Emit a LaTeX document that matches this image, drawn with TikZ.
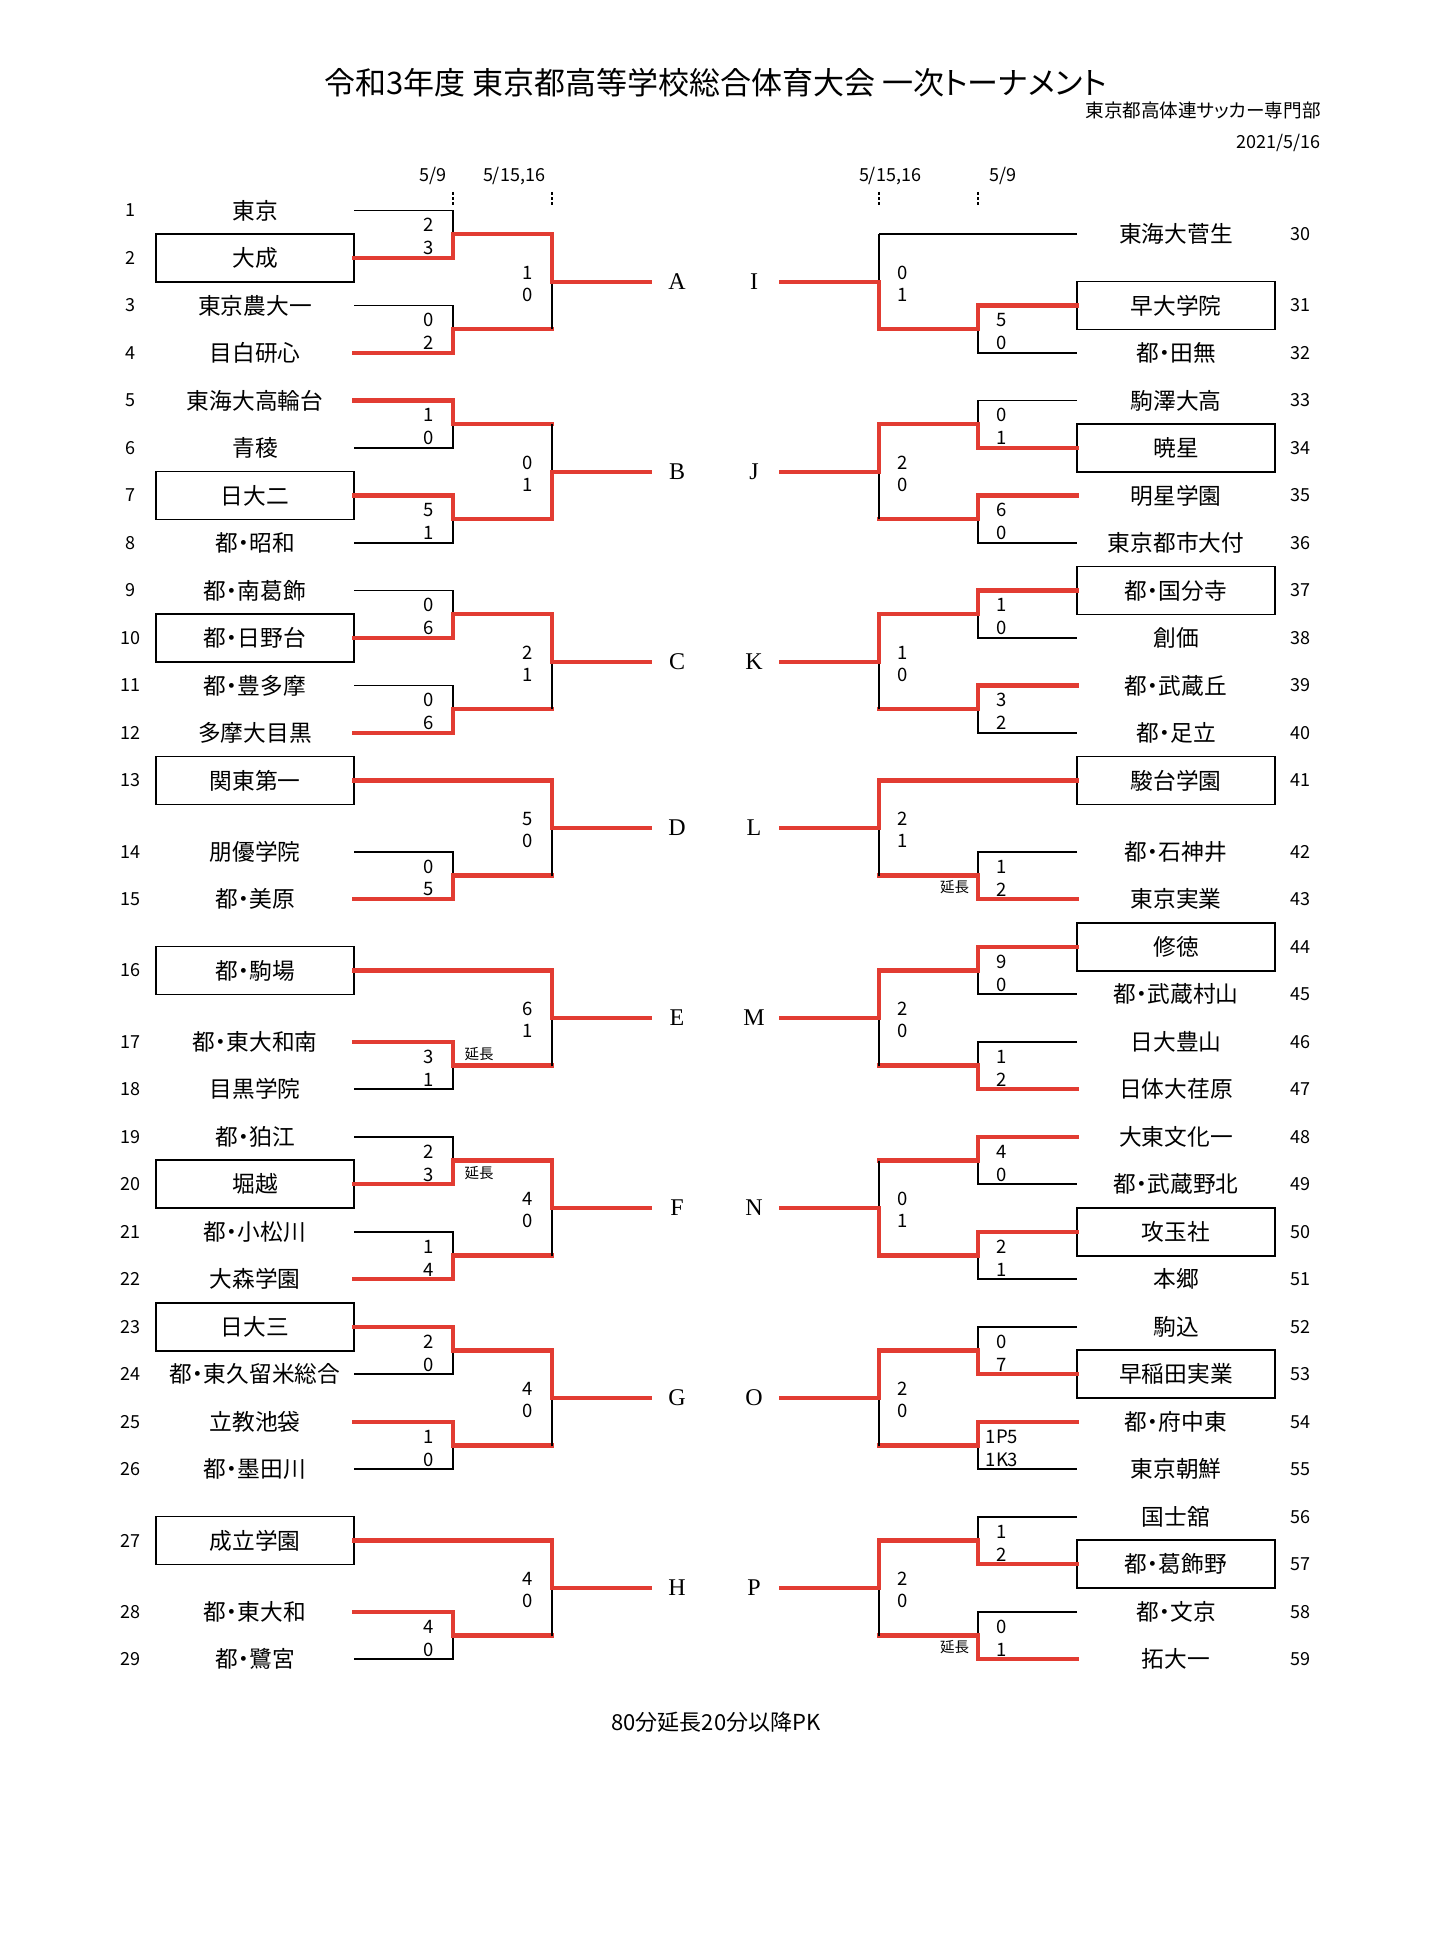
\documentclass[tikz,border=0pt]{standalone}
\usepackage{fontspec}
\setmainfont{Noto Sans CJK JP}[RawFeature={+palt}]
\newfontfamily\serifL{Liberation Serif}
\definecolor{bred}{RGB}{226,60,50}
\tikzset{
  bk/.style={line width=0.85pt, black},
  rd/.style={line width=2.1pt, bred, line cap=rect},
  nm/.style={font=\fontsize{11.35pt}{12pt}\selectfont, inner sep=0pt},
  nmbox/.style={nm, draw, line width=0.9pt, minimum width=99pt, minimum height=24pt},
  num/.style={font=\fontsize{9pt}{10pt}\selectfont, inner sep=0pt},
  score/.style={font=\fontsize{9.25pt}{10pt}\selectfont, inner sep=0pt},
  grp/.style={font=\serifL\fontsize{12pt}{13pt}\selectfont, inner sep=0pt},
  ext/.style={font=\fontsize{7.25pt}{8pt}\selectfont, inner sep=0pt},
  datet/.style={font=\fontsize{9pt}{10pt}\selectfont, inner sep=0pt},
  tickl/.style={line width=0.7pt, dash pattern=on 1.35pt off 1.25pt},
}
% side: -1 left, 1 right
\newcommand\Team[5]{%
  \node[num] (n#2) at ({715.5+(#1)*584.8},{210.5+47.5*(#4)}) {#2};
  \node[#5] (t#2) at ({715.5+(#1)*460.5},{210.5+47.5*(#4)}) {#3};
  \coordinate (a#2) at ({715.5+(#1)*361.5},{210.5+47.5*(#4)});
}
\newcommand\Match[8]{%
  \coordinate (v#2) at ({715.5+(#1)*262.5},{210.5+47.5*(#3)});
  \coordinate (w#2) at ({715.5+(#1)*262.5},{210.5+47.5*(#5)});
  \coordinate (m#2) at ({715.5+(#1)*262.5},{210.5+47.5*((#3)+(#5))/2});
  \coordinate (r#2) at ({715.5+(#1)*163.5},{210.5+47.5*((#3)+(#5))/2});
  \draw[bk] (a#2) -- (v#2) -- (w#2) -- (a#4);
  \ifnum#6=1 \draw[rd] (a#2) -- (v#2) -- (m#2) -- (r#2);
  \else \draw[rd] (a#4) -- (w#2) -- (m#2) -- (r#2); \fi
  \node[score] (sa#2) at ({715.5+(#1)*286.5},{210.5+47.5*((#3)+(#5))/2-9}) {#7};
  \node[score] (sb#2) at ({715.5+(#1)*286.5},{210.5+47.5*((#3)+(#5))/2+14}) {#8};
}
\newcommand\Bye[4]{%
  \coordinate (r#2) at ({715.5+(#1)*163.5},{210.5+47.5*(#3)});
  \draw[#4] (a#2) -- (r#2);
}
\newcommand\Final[9]{%
  \coordinate (g#9m) at ({715.5+(#1)*163.5},{210.5+47.5*((#3)+(#5))/2});
  \coordinate (g#9e) at ({715.5+(#1)*65.5},{210.5+47.5*((#3)+(#5))/2});
  \draw[bk] (r#2) -- (r#4);
  \ifnum#6=1 \draw[rd] (r#2) -- (g#9m) -- (g#9e);
  \else \draw[rd] (r#4) -- (g#9m) -- (g#9e); \fi
  \node[score] (fa#9) at ({715.5+(#1)*187.5},{210.5+47.5*((#3)+(#5))/2-9}) {#7};
  \node[score] (fb#9) at ({715.5+(#1)*187.5},{210.5+47.5*((#3)+(#5))/2+13}) {#8};
  \node[grp] (g#9) at ({715.5+(#1)*38.5},{210.5+47.5*((#3)+(#5))/2}) {#9};
}
\begin{document}
\begin{tikzpicture}[x=0.5pt,y=-0.5pt]
\useasboundingbox (0,0) rectangle (1430,1947);
\fill[white] (0,0) rectangle (1430,1947);

% header
\node[font=\fontsize{15.5pt}{16pt}\selectfont, inner sep=0pt] (title) at (715.5,83) {令和3年度 東京都高等学校総合体育大会 一次トーナメント};
\node[font=\fontsize{9.3pt}{10pt}\selectfont, inner sep=0pt, anchor=east] (org) at (1321,110) {東京都高体連サッカー専門部};
\node[font=\fontsize{9pt}{10pt}\selectfont, inner sep=0pt, anchor=east] (date) at (1321,143) {2021/5/16};

% round dates and ticks
\node[datet] (dl1) at (433,176) {5/9};
\node[datet] (dl2) at (514,176) {5/15,16};
\node[datet] (dr2) at (890,176) {5/15,16};
\node[datet] (dr1) at (1003,176) {5/9};
\coordinate (kl1a) at (453,192); \coordinate (kl1b) at (453,206);
\coordinate (kl2a) at (552,192); \coordinate (kl2b) at (552,206);
\coordinate (kr2a) at (879,192); \coordinate (kr2b) at (879,206);
\coordinate (kr1a) at (978,192); \coordinate (kr1b) at (978,206);
\draw[tickl] (kl1a) -- (kl1b);
\draw[tickl] (kl2a) -- (kl2b);
\draw[tickl] (kr2a) -- (kr2b);
\draw[tickl] (kr1a) -- (kr1b);

% ---------- left side ----------
\Team{-1}{1}{東京}{0}{nm}
\Team{-1}{2}{大成}{1}{nmbox}
\Team{-1}{3}{東京農大一}{2}{nm}
\Team{-1}{4}{目白研心}{3}{nm}
\Team{-1}{5}{東海大高輪台}{4}{nm}
\Team{-1}{6}{青稜}{5}{nm}
\Team{-1}{7}{日大二}{6}{nmbox}
\Team{-1}{8}{都・昭和}{7}{nm}
\Team{-1}{9}{都・南葛飾}{8}{nm}
\Team{-1}{10}{都・日野台}{9}{nmbox}
\Team{-1}{11}{都・豊多摩}{10}{nm}
\Team{-1}{12}{多摩大目黒}{11}{nm}
\Team{-1}{13}{関東第一}{12}{nmbox}
\Team{-1}{14}{朋優学院}{13.5}{nm}
\Team{-1}{15}{都・美原}{14.5}{nm}
\Team{-1}{16}{都・駒場}{16}{nmbox}
\Team{-1}{17}{都・東大和南}{17.5}{nm}
\Team{-1}{18}{目黒学院}{18.5}{nm}
\Team{-1}{19}{都・狛江}{19.5}{nm}
\Team{-1}{20}{堀越}{20.5}{nmbox}
\Team{-1}{21}{都・小松川}{21.5}{nm}
\Team{-1}{22}{大森学園}{22.5}{nm}
\Team{-1}{23}{日大三}{23.5}{nmbox}
\Team{-1}{24}{都・東久留米総合}{24.5}{nm}
\Team{-1}{25}{立教池袋}{25.5}{nm}
\Team{-1}{26}{都・墨田川}{26.5}{nm}
\Team{-1}{27}{成立学園}{28}{nmbox}
\Team{-1}{28}{都・東大和}{29.5}{nm}
\Team{-1}{29}{都・鷺宮}{30.5}{nm}

\Match{-1}{1}{0}{2}{1}{2}{2}{3}
\Match{-1}{3}{2}{4}{3}{2}{0}{2}
\Final{-1}{1}{0.5}{3}{2.5}{1}{1}{0}{A}
\Match{-1}{5}{4}{6}{5}{1}{1}{0}
\Match{-1}{7}{6}{8}{7}{1}{5}{1}
\Final{-1}{5}{4.5}{7}{6.5}{2}{0}{1}{B}
\Match{-1}{9}{8}{10}{9}{2}{0}{6}
\Match{-1}{11}{10}{12}{11}{2}{0}{6}
\Final{-1}{9}{8.5}{11}{10.5}{1}{2}{1}{C}
\Bye{-1}{13}{12}{rd}
\Match{-1}{14}{13.5}{15}{14.5}{2}{0}{5}
\Final{-1}{13}{12}{14}{14}{1}{5}{0}{D}
\Bye{-1}{16}{16}{rd}
\Match{-1}{17}{17.5}{18}{18.5}{1}{3}{1}
\Final{-1}{16}{16}{17}{18}{1}{6}{1}{E}
\Match{-1}{19}{19.5}{20}{20.5}{2}{2}{3}
\Match{-1}{21}{21.5}{22}{22.5}{2}{1}{4}
\Final{-1}{19}{20}{21}{22}{1}{4}{0}{F}
\Match{-1}{23}{23.5}{24}{24.5}{1}{2}{0}
\Match{-1}{25}{25.5}{26}{26.5}{1}{1}{0}
\Final{-1}{23}{24}{25}{26}{1}{4}{0}{G}
\Bye{-1}{27}{28}{rd}
\Match{-1}{28}{29.5}{29}{30.5}{1}{4}{0}
\Final{-1}{27}{28}{28}{30}{1}{4}{0}{H}

% ---------- right side ----------
\Team{1}{30}{東海大菅生}{0.5}{nm}
\Team{1}{31}{早大学院}{2}{nmbox}
\Team{1}{32}{都・田無}{3}{nm}
\Team{1}{33}{駒澤大高}{4}{nm}
\Team{1}{34}{暁星}{5}{nmbox}
\Team{1}{35}{明星学園}{6}{nm}
\Team{1}{36}{東京都市大付}{7}{nm}
\Team{1}{37}{都・国分寺}{8}{nmbox}
\Team{1}{38}{創価}{9}{nm}
\Team{1}{39}{都・武蔵丘}{10}{nm}
\Team{1}{40}{都・足立}{11}{nm}
\Team{1}{41}{駿台学園}{12}{nmbox}
\Team{1}{42}{都・石神井}{13.5}{nm}
\Team{1}{43}{東京実業}{14.5}{nm}
\Team{1}{44}{修徳}{15.5}{nmbox}
\Team{1}{45}{都・武蔵村山}{16.5}{nm}
\Team{1}{46}{日大豊山}{17.5}{nm}
\Team{1}{47}{日体大荏原}{18.5}{nm}
\Team{1}{48}{大東文化一}{19.5}{nm}
\Team{1}{49}{都・武蔵野北}{20.5}{nm}
\Team{1}{50}{攻玉社}{21.5}{nmbox}
\Team{1}{51}{本郷}{22.5}{nm}
\Team{1}{52}{駒込}{23.5}{nm}
\Team{1}{53}{早稲田実業}{24.5}{nmbox}
\Team{1}{54}{都・府中東}{25.5}{nm}
\Team{1}{55}{東京朝鮮}{26.5}{nm}
\Team{1}{56}{国士舘}{27.5}{nm}
\Team{1}{57}{都・葛飾野}{28.5}{nmbox}
\Team{1}{58}{都・文京}{29.5}{nm}
\Team{1}{59}{拓大一}{30.5}{nm}

\Bye{1}{30}{0.5}{bk}
\Match{1}{31}{2}{32}{3}{1}{5}{0}
\Final{1}{30}{0.5}{31}{2.5}{2}{0}{1}{I}
\Match{1}{33}{4}{34}{5}{2}{0}{1}
\Match{1}{35}{6}{36}{7}{1}{6}{0}
\Final{1}{33}{4.5}{35}{6.5}{1}{2}{0}{J}
\Match{1}{37}{8}{38}{9}{1}{1}{0}
\Match{1}{39}{10}{40}{11}{1}{3}{2}
\Final{1}{37}{8.5}{39}{10.5}{1}{1}{0}{K}
\Bye{1}{41}{12}{rd}
\Match{1}{42}{13.5}{43}{14.5}{2}{1}{2}
\Final{1}{41}{12}{42}{14}{1}{2}{1}{L}
\Match{1}{44}{15.5}{45}{16.5}{1}{9}{0}
\Match{1}{46}{17.5}{47}{18.5}{2}{1}{2}
\Final{1}{44}{16}{46}{18}{1}{2}{0}{M}
\Match{1}{48}{19.5}{49}{20.5}{1}{4}{0}
\Match{1}{50}{21.5}{51}{22.5}{1}{2}{1}
\Final{1}{48}{20}{50}{22}{2}{0}{1}{N}
\Match{1}{52}{23.5}{53}{24.5}{2}{0}{7}
\Match{1}{54}{25.5}{55}{26.5}{1}{1P5}{1K3}
\Final{1}{52}{24}{54}{26}{1}{2}{0}{O}
\Match{1}{56}{27.5}{57}{28.5}{2}{1}{2}
\Match{1}{58}{29.5}{59}{30.5}{2}{0}{1}
\Final{1}{56}{28}{58}{30}{1}{2}{0}{P}

% extra time marks
\node[ext] (ot1) at (479,{210.5+47.5*18-11}) {延長};
\node[ext] (ot2) at (479,{210.5+47.5*20+13}) {延長};
\node[ext] (ot3) at (954.5,{210.5+47.5*14+12}) {延長};
\node[ext] (ot4) at (954.5,{210.5+47.5*30+12}) {延長};

% footer
\node[font=\fontsize{11pt}{12pt}\selectfont, inner sep=0pt] (foot) at (716,1722) {80分延長20分以降PK};
\end{tikzpicture}
\end{document}
